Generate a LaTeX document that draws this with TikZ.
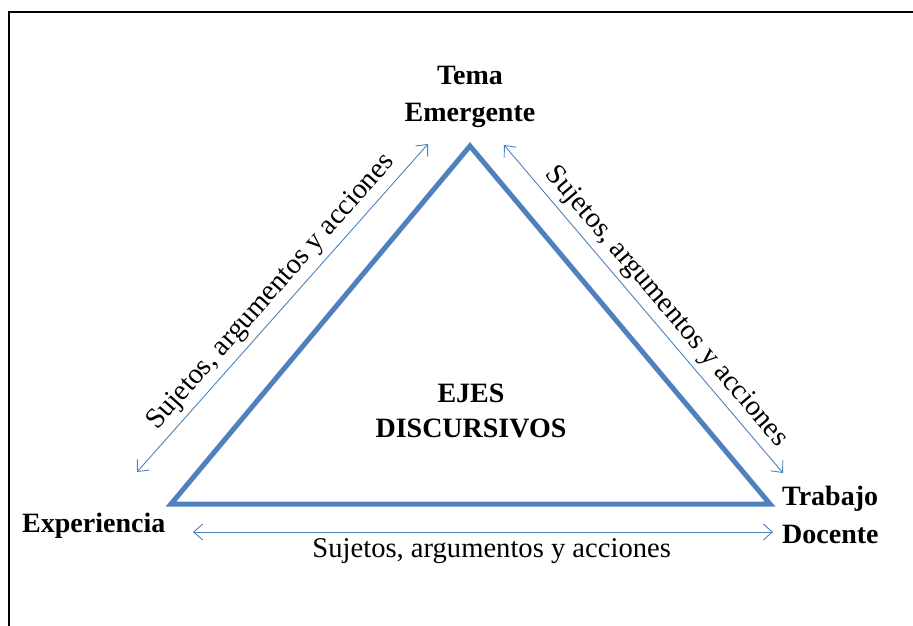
\documentclass[tikz,border=0pt]{standalone}
\usepackage{fontspec}
\setmainfont{Liberation Serif}
\usetikzlibrary{arrows.meta}
\definecolor{triblue}{RGB}{79,129,189}
\begin{document}
\begin{tikzpicture}[x=1pt,y=-1pt,
  frame/.style={draw=black, line width=2pt},
  tri/.style={draw=triblue, line width=5pt, line join=miter},
  barb/.tip={Straight Barb[length=9pt,width=16pt,line width=0.9pt]},
  link/.style={draw=triblue, line width=0.9pt, barb-barb},
  lbl/.style={font=\fontsize{28.6}{36}\selectfont, inner sep=0pt, text=black},
  bold/.style={font=\fontsize{28}{36}\selectfont\bfseries, inner sep=0pt, text=black}]
\useasboundingbox (0,0) rectangle (913,626);
\draw[frame] (9,627) -- (9,12) -- (914,12);

\coordinate (A) at (470,146);
\coordinate (B) at (171,504);
\coordinate (C) at (770,504);
\draw[tri] (A) -- (B) -- (C) -- cycle;

\coordinate (L1) at (137,472);
\coordinate (L2) at (428,144);
\coordinate (R1) at (504,145);
\coordinate (R2) at (783,473);
\coordinate (B1) at (193,532);
\coordinate (B2) at (773,532);

\draw[link] (L1) -- node[lbl, pos=0.51, sloped, above, inner sep=5.5pt] (ll) {Sujetos, argumentos y acciones} (L2);
\draw[link] (R1) -- node[lbl, pos=0.53, sloped, above, inner sep=5.5pt] (rl) {Sujetos, argumentos y acciones} (R2);
\draw[link] (B1) -- node[lbl, pos=0.515, below, inner sep=6pt] (bl) {Sujetos, argumentos y acciones} (B2);

\node[bold, align=center, font=\fontsize{28}{37}\selectfont\bfseries] (tema) at (470,97) {Tema\\Emergente};
\node[bold, align=center, font=\fontsize{28}{35}\selectfont\bfseries] (ejes) at (471,411) {EJES\\DISCURSIVOS};
\node[bold, anchor=base west] (exp) at (22,532) {Experiencia};
\node[bold, align=left, anchor=west, font=\fontsize{28}{38}\selectfont\bfseries] (trab) at (782,514.5) {Trabajo\\Docente};
\end{tikzpicture}
\end{document}
